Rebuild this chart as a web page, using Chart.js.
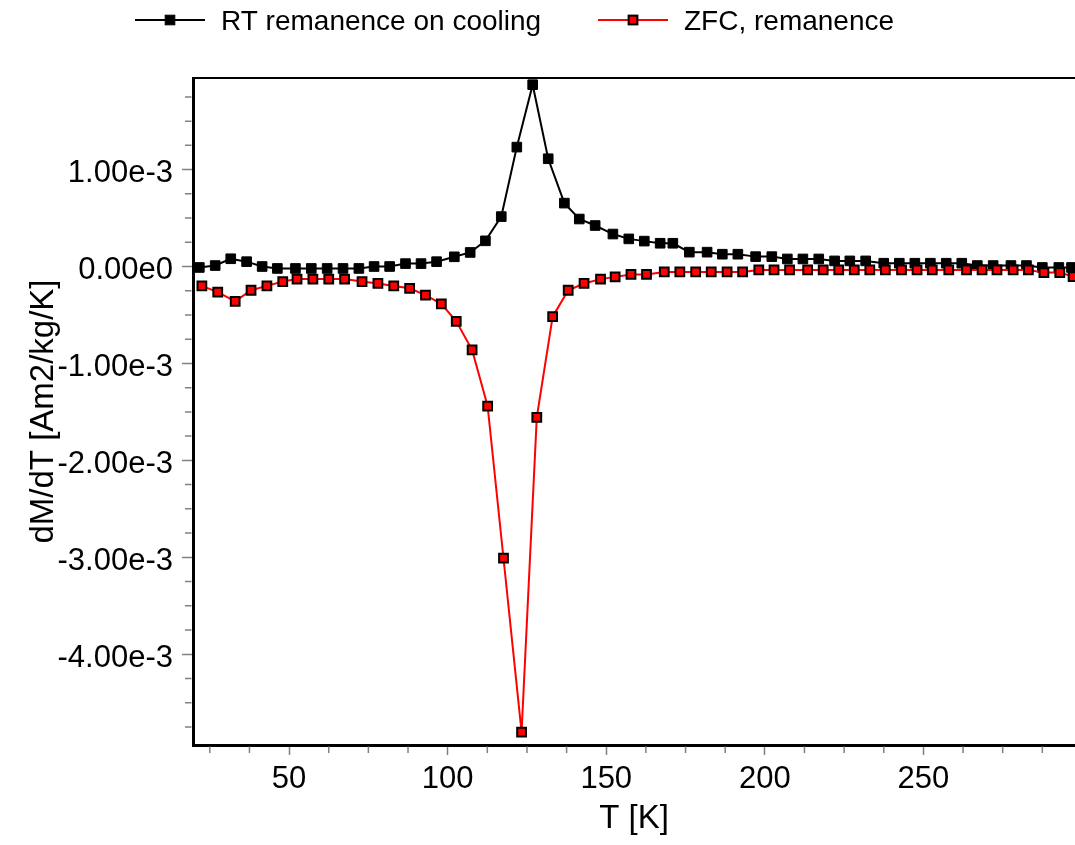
<!DOCTYPE html>
<html>
<head>
<meta charset="utf-8">
<script src="https://cdn.jsdelivr.net/npm/chart.js@4.4.1/dist/chart.umd.min.js"></script>
<style>
    html, body { margin: 0; padding: 0; background: #fff; overflow: hidden; }
    #wrap { width: 1075px; height: 845px; }
</style>
</head>
<body>
<div id="wrap"><canvas id="graficoDmdt"></canvas></div>
<script>
// temperature in K, dM/dT in Am2/kg/K
const seriesLabels = ['RT remanence on cooling', 'ZFC, remanence'];

const rtT = [21.7, 26.7, 31.6, 36.6, 41.5, 46.3, 52, 57, 62, 67, 72, 76.8, 81.7, 86.7, 91.6, 96.5,
    102.1, 107.1, 111.9, 116.9, 121.8, 126.8, 131.7, 136.8, 141.5, 146.5, 152.1, 157.1, 162, 167,
    171, 176.2, 181.8, 186.6, 191.5, 197.1, 202.2, 207.1, 212, 217, 222, 226.8, 231.8, 237.5,
    242.4, 247.3, 252.2, 257.2, 262.1, 267, 272, 277.6, 282.5, 287.5, 292.7, 296.7];
const rtValues = [-0.01e-3, 0.01e-3, 0.08e-3, 0.05e-3, 0.0, -0.02e-3, -0.02e-3, -0.02e-3, -0.02e-3,
    -0.02e-3, -0.02e-3, 0.0, 0.0, 0.03e-3, 0.03e-3, 0.05e-3, 0.10e-3, 0.145e-3, 0.265e-3, 0.515e-3,
    1.232e-3, 1.876e-3, 1.112e-3, 0.654e-3, 0.49e-3, 0.423e-3, 0.335e-3, 0.285e-3, 0.262e-3,
    0.24e-3, 0.24e-3, 0.148e-3, 0.148e-3, 0.127e-3, 0.127e-3, 0.102e-3, 0.102e-3, 0.078e-3,
    0.078e-3, 0.078e-3, 0.058e-3, 0.058e-3, 0.058e-3, 0.034e-3, 0.034e-3, 0.034e-3, 0.034e-3,
    0.034e-3, 0.034e-3, 0.01e-3, 0.01e-3, 0.01e-3, 0.01e-3, -0.01e-3, -0.01e-3, -0.01e-3];

const zfcT = [22.5, 27.5, 33, 38, 43, 48, 52.5, 57.5, 62.5, 67.5, 73, 78, 83, 88, 93, 98, 102.7,
    107.7, 112.6, 117.6, 123.3, 128.1, 133.1, 138, 143, 148.2, 152.8, 157.8, 162.7, 168.3, 173.2,
    178.2, 183.1, 188.1, 193, 198.1, 202.9, 207.8, 213.5, 218.4, 223.3, 228.2, 233.1, 238, 243.1,
    248, 252.8, 258, 263.6, 268.5, 273.2, 278.3, 283.1, 288, 293, 297.2];
const zfcValues = [-0.20e-3, -0.265e-3, -0.36e-3, -0.245e-3, -0.20e-3, -0.155e-3, -0.13e-3,
    -0.13e-3, -0.13e-3, -0.13e-3, -0.155e-3, -0.175e-3, -0.20e-3, -0.225e-3, -0.295e-3, -0.385e-3,
    -0.565e-3, -0.86e-3, -1.44e-3, -3.01e-3, -4.805e-3, -1.557e-3, -0.518e-3, -0.245e-3,
    -0.175e-3, -0.13e-3, -0.107e-3, -0.082e-3, -0.082e-3, -0.056e-3, -0.056e-3, -0.056e-3,
    -0.056e-3, -0.056e-3, -0.056e-3, -0.035e-3, -0.035e-3, -0.035e-3, -0.035e-3, -0.035e-3,
    -0.035e-3, -0.035e-3, -0.035e-3, -0.035e-3, -0.035e-3, -0.035e-3, -0.035e-3, -0.035e-3,
    -0.035e-3, -0.035e-3, -0.035e-3, -0.035e-3, -0.035e-3, -0.063e-3, -0.063e-3, -0.104e-3];

const xTicks = [50, 100, 150, 200, 250];
const yTicks = [-4e-3, -3e-3, -2e-3, -1e-3, 0, 1e-3];
const yTickLabels = ['-4.00e-3', '-3.00e-3', '-2.00e-3', '-1.00e-3', '0.00e0', '1.00e-3'];

const toPoints = (xs, ys) => xs.map((t, i) => ({ x: t, y: ys[i] }));

Chart.defaults.font.family = '"Liberation Sans", Arial, sans-serif';
Chart.defaults.color = '#000';

// top frame line, minor ticks and the line+marker legend
const extras = {
    id: 'extras',
    afterDraw(chart) {
        const { ctx, chartArea: a, scales: { x, y } } = chart;
        ctx.save();
        ctx.strokeStyle = '#000';
        ctx.lineWidth = 2;
        ctx.beginPath();
        ctx.moveTo(a.left, a.top);
        ctx.lineTo(a.right, a.top);
        ctx.stroke();

        ctx.strokeStyle = '#808080';
        ctx.lineWidth = 1.5;
        ctx.beginPath();
        for (let t = 25; t < x.max; t += 12.5) {
            if (t % 50 === 0) continue;
            const px = x.getPixelForValue(t);
            ctx.moveTo(px, a.bottom + 1.5);
            ctx.lineTo(px, a.bottom + 8);
        }
        for (let k = -19; k <= 7; k++) {
            if (k % 4 === 0) continue;
            const py = y.getPixelForValue(k * 0.25e-3);
            ctx.moveTo(a.left - 1.5, py);
            ctx.lineTo(a.left - 8, py);
        }
        ctx.stroke();

        const legendX = [135, 598];
        const yc = 20;
        chart.data.datasets.forEach((ds, i) => {
            const x0 = legendX[i];
            ctx.strokeStyle = ds.borderColor;
            ctx.lineWidth = 2;
            ctx.beginPath();
            ctx.moveTo(x0, yc);
            ctx.lineTo(x0 + 70, yc);
            ctx.stroke();
            const s = ds.pointRadius * Math.SQRT2;
            ctx.fillStyle = ds.pointBackgroundColor;
            ctx.strokeStyle = ds.pointBorderColor;
            ctx.lineWidth = ds.pointBorderWidth;
            ctx.fillRect(x0 + 35 - s / 2, yc - s / 2, s, s);
            ctx.strokeRect(x0 + 35 - s / 2, yc - s / 2, s, s);
            ctx.fillStyle = '#000';
            ctx.font = '28px "Liberation Sans", Arial, sans-serif';
            ctx.textBaseline = 'alphabetic';
            ctx.textAlign = 'left';
            ctx.fillText(ds.label, x0 + 86, 30);
        });
        ctx.restore();
    }
};

window.onload = function () {
    const ctx = document.getElementById('graficoDmdt').getContext('2d');
    const graficoDmdt = new Chart(ctx, {
        type: 'line',
        data: {
            datasets: [{
                label: seriesLabels[0],
                data: toPoints(rtT, rtValues),
                borderColor: '#000000',
                borderWidth: 2,
                pointStyle: 'rect',
                pointRadius: 6.8,
                pointBackgroundColor: '#000000',
                pointBorderColor: '#000000',
                pointBorderWidth: 1,
                tension: 0,
                fill: false,
                order: 1
            }, {
                label: seriesLabels[1],
                data: toPoints(zfcT, zfcValues),
                borderColor: '#ff0000',
                borderWidth: 2,
                pointStyle: 'rect',
                pointRadius: 6.2,
                pointBackgroundColor: '#ff0000',
                pointBorderColor: '#000000',
                pointBorderWidth: 2,
                tension: 0,
                fill: false,
                order: 0
            }]
        },
        options: {
            responsive: true,
            maintainAspectRatio: false,
            animation: false,
            events: [],
            layout: { autoPadding: false, padding: { top: 78, left: 0, right: 0, bottom: 0 } },
            plugins: {
                legend: { display: false },
                tooltip: { enabled: false }
            },
            scales: {
                x: {
                    type: 'linear',
                    min: 19.7,
                    max: 297.8,
                    afterBuildTicks: s => { s.ticks = xTicks.map(v => ({ value: v })); },
                    afterFit: s => { s.height = 100; },
                    border: { color: '#000', width: 3 },
                    grid: { drawOnChartArea: false, tickLength: 10, tickColor: '#808080', tickWidth: 1.5 },
                    ticks: { font: { size: 31 }, color: '#000', padding: 6, maxRotation: 0 },
                    title: { display: true, text: 'T [K]', font: { size: 33 }, color: '#000', padding: { bottom: 6 } }
                },
                y: {
                    min: -4.937e-3,
                    max: 1.945e-3,
                    afterBuildTicks: s => { s.ticks = yTicks.map(v => ({ value: v })); },
                    afterFit: s => { s.width = 193; },
                    border: { color: '#000', width: 3 },
                    grid: { drawOnChartArea: false, tickLength: 11, tickColor: '#808080', tickWidth: 1.5 },
                    ticks: {
                        font: { size: 31 },
                        color: '#000',
                        padding: 9,
                        labelOffset: 4,
                        callback: (v, i) => yTickLabels[i]
                    },
                    title: { display: true, text: 'dM/dT [Am2/kg/K]', font: { size: 33 }, color: '#000', padding: { top: 24 } }
                }
            }
        },
        plugins: [extras]
    });
};
</script>
</body>
</html>
